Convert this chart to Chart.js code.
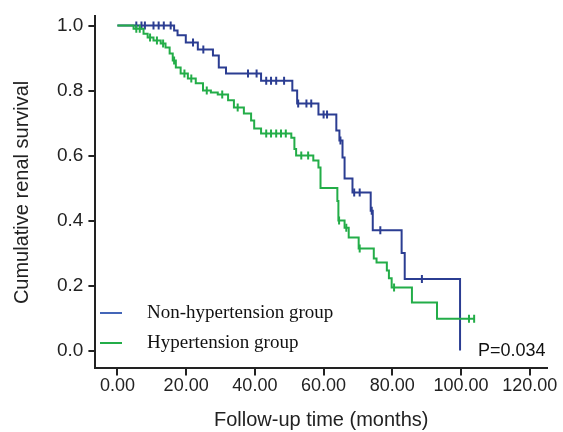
<!DOCTYPE html>
<html>
<head>
<meta charset="utf-8">
<script src="https://cdn.jsdelivr.net/npm/chart.js@4.4.1/dist/chart.umd.min.js"></script>
<style>
  html, body { margin: 0; padding: 0; background: #fff; }
  #wrap { width: 563px; height: 432px; }
</style>
</head>
<body>
<div id="wrap"><canvas id="kmChart" width="563" height="432"></canvas></div>
<script>
// Kaplan-Meier steps (time in months, survival after the step)
const nonHtnTime = [0, 16.5, 17.5, 19.9, 23.4, 27.8, 29.5, 31.6, 41.8, 50.9, 52.3, 58.5, 63.7, 64.6, 65.5, 66.1, 68.4, 73.7, 74.3, 82.7, 83.6, 99.7];
const nonHtnSurv = [1, 0.985, 0.97, 0.948, 0.926, 0.908, 0.871, 0.852, 0.83, 0.80, 0.76, 0.726, 0.677, 0.646, 0.594, 0.529, 0.486, 0.43, 0.37, 0.30, 0.22, 0];
const nonHtnCensored = [5.5, 7, 8, 10.5, 12, 13.5, 15.5, 22, 25, 38, 40.5, 43.3, 44.7, 46.2, 48.5, 52.6, 55, 56.4, 60, 61, 64.9, 68.9, 70.5, 74, 76.5, 88.6];

const htnTime = [0, 4.7, 7.6, 8.8, 10.5, 12.6, 14, 15.2, 16.1, 17, 18.4, 20.5, 22.8, 24.9, 27.2, 29.2, 32.2, 33.9, 36.8, 38.9, 39.8, 41.8, 50.6, 51.5, 52, 57, 58.5, 59.1, 64, 64.3, 66.1, 67.3, 70.2, 74.6, 75.4, 78.4, 79, 79.8, 85.7, 93, 103.8];
const htnSurv = [1, 0.99, 0.975, 0.963, 0.954, 0.945, 0.932, 0.914, 0.892, 0.871, 0.852, 0.837, 0.822, 0.80, 0.794, 0.788, 0.77, 0.748, 0.729, 0.708, 0.683, 0.668, 0.655, 0.62, 0.60, 0.585, 0.563, 0.50, 0.46, 0.40, 0.378, 0.348, 0.314, 0.283, 0.271, 0.246, 0.222, 0.194, 0.148, 0.098, 0.098];
const htnCensored = [5.5, 6.5, 9.5, 11.5, 13.3, 16.5, 19.5, 21.5, 26, 30.5, 35, 43.3, 44.7, 46.2, 47.6, 49, 53.5, 55.5, 64.5, 66.6, 70.5, 80.5, 102.3, 103.8];

const xTicks = [0, 20, 40, 60, 80, 100, 120];
const yTicks = [0, 0.2, 0.4, 0.6, 0.8, 1.0];
const groupNames = ["Non-hypertension group", "Hypertension group"];
const pValueText = "P=0.034";

const blue = "#2b3d92";
const green = "#23ad48";

// survival value at time t (censor marks sit on the curve)
function survAt(times, surv, t) {
  let v = surv[0];
  for (let i = 0; i < times.length; i++) {
    if (times[i] <= t) v = surv[i];
  }
  return v;
}

function toPoints(times, surv) {
  return times.map((t, i) => ({ x: t, y: surv[i] }));
}

function censorPoints(cens, times, surv) {
  return cens.map((t) => ({ x: t, y: survAt(times, surv, t) }));
}

// legend + p value drawn inside the plot
const annotations = {
  id: "annotations",
  afterDraw(chart) {
    const c = chart.ctx;
    c.save();
    c.lineWidth = 2;
    c.strokeStyle = "#4466b8";
    c.beginPath();
    c.moveTo(100, 313);
    c.lineTo(122, 313);
    c.stroke();
    c.strokeStyle = green;
    c.beginPath();
    c.moveTo(100, 343);
    c.lineTo(122, 343);
    c.stroke();
    c.fillStyle = "#111";
    c.textBaseline = "middle";
    c.font = '19px "Liberation Serif", "Times New Roman", serif';
    c.fillText(groupNames[0], 147, 313);
    c.fillText(groupNames[1], 147, 343);
    c.font = '18px "Liberation Sans", Arial, sans-serif';
    c.fillText(pValueText, 478, 351);
    c.restore();
  },
};

const ctx = document.getElementById("kmChart").getContext("2d");

new Chart(ctx, {
  type: "scatter",
  data: {
    datasets: [
      {
        label: groupNames[1],
        data: toPoints(htnTime, htnSurv),
        showLine: true,
        stepped: true,
        borderColor: green,
        borderWidth: 2,
        pointRadius: 0,
      },
      {
        label: groupNames[1] + " censored",
        data: censorPoints(htnCensored, htnTime, htnSurv),
        pointStyle: "line",
        rotation: 90,
        pointRadius: 4,
        borderColor: green,
        borderWidth: 2,
      },
      {
        label: groupNames[0],
        data: toPoints(nonHtnTime, nonHtnSurv),
        showLine: true,
        stepped: true,
        borderColor: blue,
        borderWidth: 2,
        pointRadius: 0,
      },
      {
        label: groupNames[0] + " censored",
        data: censorPoints(nonHtnCensored, nonHtnTime, nonHtnSurv),
        pointStyle: "line",
        rotation: 90,
        pointRadius: 4,
        borderColor: blue,
        borderWidth: 2,
      },
    ],
  },
  options: {
    responsive: false,
    animation: false,
    layout: { padding: { top: 16, left: 10, right: 16, bottom: 0 } },
    plugins: {
      legend: { display: false },
      tooltip: { enabled: false },
    },
    scales: {
      x: {
        type: "linear",
        min: -6.4,
        max: 125,
        afterBuildTicks: (scale) => {
          scale.ticks = xTicks.map((v) => ({ value: v }));
        },
        grid: { drawOnChartArea: false, tickLength: 7, color: "#222", lineWidth: 2 },
        border: { display: true, color: "#222", width: 2 },
        ticks: {
          color: "#222",
          padding: 0,
          font: { family: '"Liberation Sans", Arial, sans-serif', size: 18 },
          callback: (v) => v.toFixed(2),
        },
        title: {
          display: true,
          text: "Follow-up time (months)",
          color: "#222",
          font: { family: '"Liberation Sans", Arial, sans-serif', size: 20 },
          padding: { top: 11, bottom: 0 },
        },
      },
      y: {
        min: -0.055,
        max: 1.028,
        afterBuildTicks: (scale) => {
          scale.ticks = yTicks.map((v) => ({ value: v }));
        },
        grid: { drawOnChartArea: false, tickLength: 7, color: "#222", lineWidth: 2 },
        border: { display: true, color: "#222", width: 2 },
        ticks: {
          color: "#222",
          padding: 5,
          font: { family: '"Liberation Sans", Arial, sans-serif', size: 19 },
          callback: (v) => v.toFixed(1),
        },
        title: {
          display: true,
          text: "Cumulative renal survival",
          color: "#222",
          font: { family: '"Liberation Sans", Arial, sans-serif', size: 20 },
          padding: { top: 0, bottom: 18 },
        },
      },
    },
  },
  plugins: [annotations],
});
</script>
</body>
</html>
